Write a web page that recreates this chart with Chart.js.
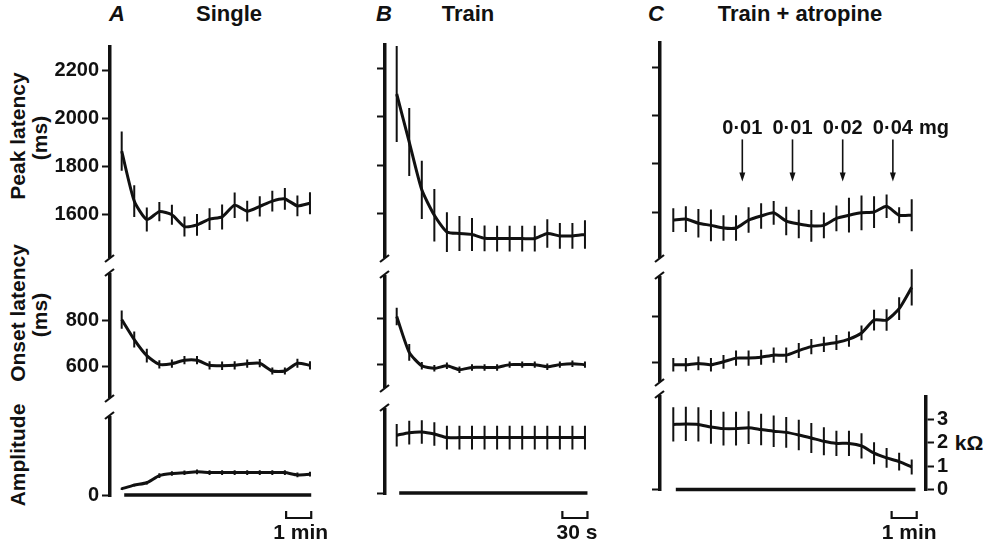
<!DOCTYPE html>
<html>
<head>
<meta charset="utf-8">
<title>Peak latency, onset latency and amplitude</title>
<script src="https://cdn.jsdelivr.net/npm/chart.js@4.4.1/dist/chart.umd.min.js"></script>
<style>
  body { margin: 0; width: 995px; height: 545px; position: relative; overflow: hidden; background: #fff;
         font-family: "Liberation Sans", Arial, sans-serif; color: #111; }
  canvas { position: absolute; }
  .t { position: absolute; transform: translate(-50%, -50%); font-weight: bold; font-size: 22px; white-space: nowrap; }
  .v { transform: translate(-50%, -50%) rotate(-90deg); font-size: 21px; }
  .it { font-style: italic; }
</style>
</head>
<body>
<div class="t it" style="left:117px;top:14px">A</div>
<div class="t" style="left:229px;top:14px">Single</div>
<div class="t it" style="left:384px;top:14px">B</div>
<div class="t" style="left:468px;top:14px">Train</div>
<div class="t it" style="left:656px;top:14px">C</div>
<div class="t" style="left:800px;top:14px">Train + atropine</div>

<div class="t v" style="left:18px;top:136px">Peak latency</div>
<div class="t v" style="left:40px;top:138px">(ms)</div>
<div class="t v" style="left:18px;top:313px">Onset latency</div>
<div class="t v" style="left:40px;top:315px">(ms)</div>
<div class="t v" style="left:18px;top:455px">Amplitude</div>
<div class="t" style="left:969px;top:443px;font-size:21px">kΩ</div>

<script>
const FONT = '"Liberation Sans", Arial, sans-serif';
const INK = '#111';

// time of each point (min)
const tA = [0, 0.5, 1, 1.5, 2, 2.5, 3, 3.5, 4, 4.5, 5, 5.5, 6, 6.5, 7, 7.5];
const tB = [0, 0.25, 0.5, 0.75, 1, 1.25, 1.5, 1.75, 2, 2.25, 2.5, 2.75, 3, 3.25, 3.5, 3.75];
const tC = [0, 0.5, 1, 1.5, 2, 2.5, 3, 3.5, 4, 4.5, 5, 5.5, 6, 6.5, 7, 7.5, 8, 8.5, 9, 9.5];

// A  single
const peakA     = [1865, 1657, 1580, 1613, 1600, 1551, 1558, 1582, 1591, 1640, 1615, 1635, 1657, 1666, 1637, 1648];
const peakAErr  = [82, 66, 50, 40, 42, 42, 45, 45, 52, 53, 43, 42, 43, 45, 43, 46];
const onsetA    = [804, 717, 647, 609, 612, 627, 627, 605, 603, 605, 612, 614, 580, 580, 614, 605];
const onsetAErr = [40, 35, 30, 18, 18, 18, 18, 18, 18, 18, 18, 18, 15, 15, 20, 18];
const ampA      = [0.27, 0.43, 0.53, 0.84, 0.93, 0.96, 1.0, 0.97, 0.97, 0.97, 0.97, 0.97, 0.97, 0.97, 0.87, 0.9];
const ampAErr   = [0.05, 0.06, 0.07, 0.1, 0.1, 0.1, 0.1, 0.1, 0.1, 0.1, 0.1, 0.1, 0.1, 0.1, 0.1, 0.1];

// B  train
const peakB     = [2094, 1896, 1699, 1594, 1525, 1519, 1515, 1499, 1498, 1498, 1498, 1498, 1519, 1509, 1509, 1515];
const peakBErr  = [198, 140, 120, 108, 82, 72, 68, 53, 53, 53, 53, 53, 59, 53, 53, 59];
const onsetB    = [809, 653, 595, 584, 595, 578, 588, 588, 588, 600, 600, 600, 591, 600, 604, 600];
const onsetBErr = [38, 36, 16, 14, 14, 14, 14, 14, 14, 14, 14, 14, 14, 14, 14, 14];
const ampB      = [2.45, 2.56, 2.59, 2.5, 2.35, 2.35, 2.35, 2.35, 2.35, 2.35, 2.35, 2.35, 2.35, 2.35, 2.35, 2.35];
const ampBErr   = [0.48, 0.5, 0.5, 0.5, 0.5, 0.5, 0.5, 0.5, 0.5, 0.5, 0.5, 0.5, 0.5, 0.5, 0.5, 0.5];

// C  train + atropine
const peakC     = [1567, 1571, 1554, 1545, 1534, 1534, 1567, 1584, 1597, 1563, 1551, 1543, 1545, 1574, 1587, 1597, 1600, 1624, 1587, 1587];
const peakCErr  = [49, 53, 59, 66, 53, 53, 53, 53, 49, 59, 59, 66, 53, 53, 72, 72, 66, 49, 33, 66];
const onsetC    = [591, 591, 597, 591, 604, 620, 620, 624, 633, 633, 653, 670, 680, 688, 703, 730, 786, 786, 836, 929];
const onsetCErr = [30, 30, 30, 30, 30, 33, 33, 33, 33, 33, 33, 33, 33, 33, 33, 32, 45, 47, 50, 79];
const ampC      = [2.78, 2.8, 2.78, 2.67, 2.6, 2.6, 2.64, 2.56, 2.49, 2.44, 2.33, 2.2, 2.06, 1.97, 1.97, 1.86, 1.55, 1.35, 1.19, 0.96];
const ampCErr   = [0.73, 0.73, 0.73, 0.72, 0.72, 0.72, 0.7, 0.67, 0.67, 0.66, 0.65, 0.64, 0.6, 0.54, 0.54, 0.54, 0.47, 0.42, 0.38, 0.32];

// stimulus bars (start, end in min)
const baseA = [0.1, 7.55];
const baseB = [0.05, 3.8];
const baseC = [0.1, 9.65];

// tick labels
const peakTicks = [1600, 1800, 2000, 2200];
const onsetTicks = [600, 800];
const ampTicks = [0];
const kohmTicks = [0, 1, 2, 3];

// atropine doses
const doseTimes = [2.75, 4.75, 6.75, 8.75];
const doseLabels = ['0·01', '0·01', '0·02', '0·04'];

// layout of the three panels
const panelA = { axisX: 110, areaW: 208, xMin: -0.466, xMax: 7.82 };
const panelB = { axisX: 385, areaW: 210, xMin: -0.233, xMax: 3.95 };
const panelC = { axisX: 660, areaW: 266, xMin: -0.53, xMax: 10.07 };

const cells = [
  { p: panelA, top: 42, bottom: 262, min: 1424, max: 2299, t: tA, v: peakA, e: peakAErr, ticks: peakTicks, labels: true, breakBottom: true },
  { p: panelA, top: 270, bottom: 402, min: 467, max: 998, t: tA, v: onsetA, e: onsetAErr, ticks: onsetTicks, labels: true, breakTop: true, breakBottom: true },
  { p: panelA, top: 413, bottom: 496, min: -0.04, max: 3.32, t: tA, v: ampA, e: ampAErr, ticks: ampTicks, labels: true, breakTop: true, base: baseA,
    scaleBar: { from: 6.55, to: 7.55, label: '1 min', dy: 22, tx: 2 } },

  { p: panelB, top: 40, bottom: 262, min: 1422, max: 2296, t: tB, v: peakB, e: peakBErr, ticks: peakTicks, breakBottom: true },
  { p: panelB, top: 272, bottom: 392, min: 503, max: 980, t: tB, v: onsetB, e: onsetBErr, ticks: onsetTicks, breakTop: true, breakBottom: true },
  { p: panelB, top: 405, bottom: 494, min: -0.04, max: 3.52, t: tB, v: ampB, e: ampBErr, ticks: ampTicks, breakTop: true, base: baseB,
    scaleBar: { from: 3.3, to: 3.8, label: '30 s', dy: 24, tx: 2 } },

  { p: panelC, top: 38, bottom: 262, min: 1414, max: 2300, t: tC, v: peakC, e: peakCErr, ticks: peakTicks, breakBottom: true,
    arrows: { times: doseTimes, labels: doseLabels, tip: 1727, unit: 'mg' } },
  { p: panelC, top: 273, bottom: 386, min: 520, max: 970, t: tC, v: onsetC, e: onsetCErr, ticks: onsetTicks, breakTop: true, breakBottom: true },
  { p: panelC, top: 392, bottom: 490, min: -0.02, max: 3.95, t: tC, v: ampC, e: ampCErr, ticks: ampTicks, breakTop: true, base: baseC, right: kohmTicks,
    scaleBar: { from: 8.7, to: 9.7, label: '1 min', dy: 28, tx: 5 } }
];

function cellPlugin(cell) {
  return {
    id: 'cellMarks',
    afterDatasetsDraw(chart) {
      const { ctx, chartArea: a } = chart;
      const x = chart.scales.x, y = chart.scales.y;
      ctx.save();
      ctx.strokeStyle = INK;
      ctx.fillStyle = INK;

      // error bars
      chart.data.datasets.forEach(ds => {
        if (!ds.errors) return;
        ctx.lineWidth = 2;
        ctx.beginPath();
        ds.data.forEach((pt, i) => {
          const px = x.getPixelForValue(pt.x);
          ctx.moveTo(px, y.getPixelForValue(pt.y - ds.errors[i]));
          ctx.lineTo(px, y.getPixelForValue(pt.y + ds.errors[i]));
        });
        ctx.stroke();
      });

      // axis breaks
      ctx.lineWidth = 2.2;
      if (cell.breakTop) {
        ctx.beginPath(); ctx.moveTo(a.left - 5, a.top + 1); ctx.lineTo(a.left + 4, a.top - 6); ctx.stroke();
      }
      if (cell.breakBottom) {
        ctx.beginPath(); ctx.moveTo(a.left - 5, a.bottom + 5); ctx.lineTo(a.left + 4, a.bottom - 2); ctx.stroke();
      }

      // dose arrows
      if (cell.arrows) {
        const ar = cell.arrows;
        const tipY = y.getPixelForValue(ar.tip);
        ctx.font = 'bold 20px ' + FONT;
        ctx.textAlign = 'center';
        ctx.textBaseline = 'middle';
        let lastRight = 0;
        ar.times.forEach((tm, i) => {
          const px = x.getPixelForValue(tm);
          ctx.lineWidth = 1.6;
          ctx.beginPath(); ctx.moveTo(px, tipY - 42); ctx.lineTo(px, tipY - 6); ctx.stroke();
          ctx.beginPath(); ctx.moveTo(px - 3, tipY - 9); ctx.lineTo(px + 3, tipY - 9); ctx.lineTo(px, tipY); ctx.closePath(); ctx.fill();
          ctx.fillText(ar.labels[i], px, tipY - 53);
          lastRight = px + ctx.measureText(ar.labels[i]).width / 2;
        });
        ctx.textAlign = 'left';
        ctx.fillText(ar.unit, lastRight + 6, tipY - 53);
      }

      // time scale bar
      if (cell.scaleBar) {
        const sb = cell.scaleBar;
        const x0 = x.getPixelForValue(sb.from), x1 = x.getPixelForValue(sb.to);
        const yb = a.bottom + sb.dy;
        ctx.lineWidth = 2.2;
        ctx.beginPath();
        ctx.moveTo(x0, yb - 7); ctx.lineTo(x0, yb); ctx.lineTo(x1, yb); ctx.lineTo(x1, yb - 7);
        ctx.stroke();
        ctx.font = 'bold 21px ' + FONT;
        ctx.textAlign = 'center';
        ctx.textBaseline = 'middle';
        ctx.fillText(sb.label, (x0 + x1) / 2 + sb.tx, yb + 15);
      }
      ctx.restore();
    }
  };
}

function axisOpts(position, min, max, tickVals, showLabels, width) {
  return {
    position, min, max,
    afterFit: s => { s.width = width; },
    afterBuildTicks: s => { s.ticks = tickVals.map(v => ({ value: v })); },
    border: { display: true, width: 3.5, color: INK },
    grid: { drawOnChartArea: false, drawTicks: true, tickLength: 8, tickWidth: 2, color: INK },
    ticks: {
      color: INK, padding: 3,
      font: { family: FONT, size: 20, weight: 'bold' },
      callback: v => showLabels ? String(v) : ''
    }
  };
}

cells.forEach((cell, idx) => {
  const isAmp = idx % 3 === 2;
  const padTop = 10, padBottom = isAmp ? 55 : 10, padRight = 60;
  const w = 100 + cell.p.areaW + padRight;
  const h = cell.bottom - cell.top + padTop + padBottom;
  const cv = document.createElement('canvas');
  cv.width = w; cv.height = h;
  cv.style.left = (cell.p.axisX - 100) + 'px';
  cv.style.top = (cell.top - padTop) + 'px';
  cv.style.width = w + 'px';
  cv.style.height = h + 'px';
  document.body.appendChild(cv);

  const datasets = [{
    data: cell.t.map((tm, i) => ({ x: tm, y: cell.v[i] })),
    errors: cell.e,
    borderColor: INK, borderWidth: 3, pointRadius: 0, tension: 0.2, clip: false
  }];
  if (cell.base) {
    datasets.push({
      data: cell.base.map(tm => ({ x: tm, y: 0 })),
      borderColor: INK, borderWidth: 3.5, pointRadius: 0, clip: false
    });
  }

  const scales = {
    x: { type: 'linear', display: false, min: cell.p.xMin, max: cell.p.xMax },
    y: axisOpts('left', cell.min, cell.max, cell.ticks, !!cell.labels, 100)
  };
  if (cell.right) scales.y2 = axisOpts('right', cell.min, cell.max, cell.right, true, padRight);

  new Chart(cv, {
    type: 'line',
    data: { datasets },
    options: {
      responsive: false,
      animation: false,
      devicePixelRatio: 1,
      events: [],
      layout: { autoPadding: false, padding: { left: 0, top: padTop, bottom: padBottom, right: cell.right ? 0 : padRight } },
      plugins: { legend: { display: false }, tooltip: { enabled: false } },
      scales
    },
    plugins: [cellPlugin(cell)]
  });
});
</script>
</body>
</html>
